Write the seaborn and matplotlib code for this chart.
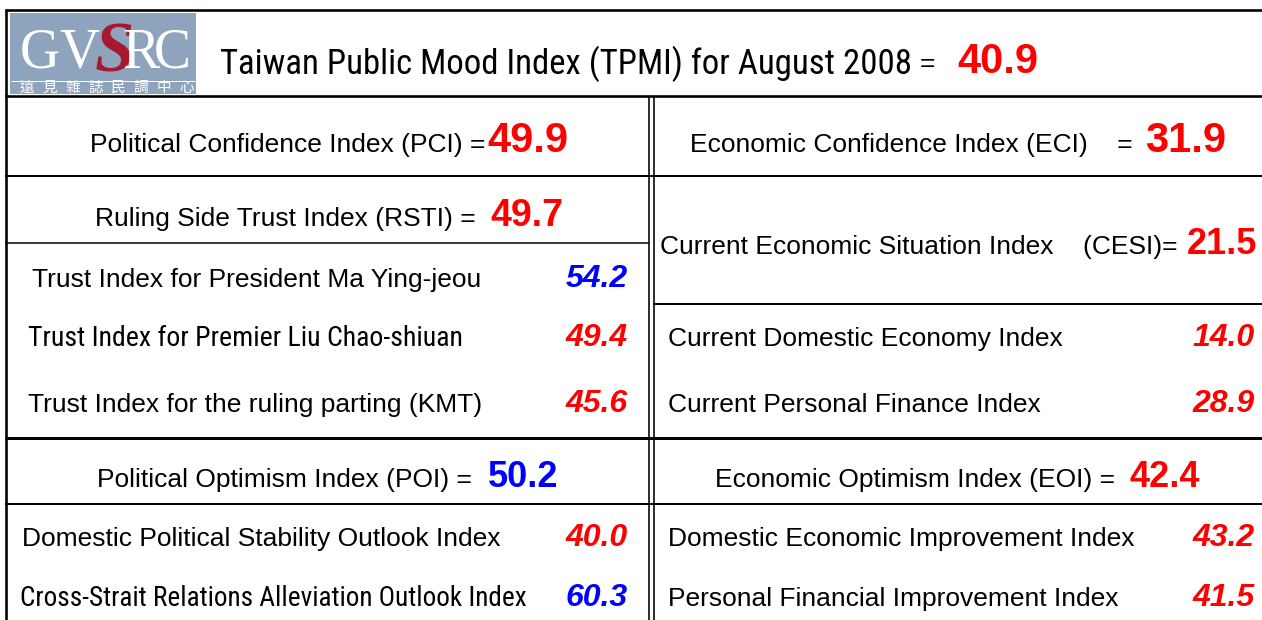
import matplotlib
matplotlib.use("Agg")
import matplotlib.pyplot as plt
import seaborn as sns
from matplotlib import font_manager
from matplotlib.patches import Rectangle

# headline
title_label = "Taiwan Public Mood Index (TPMI) for August 2008"
title_value = 40.9

# section headers (left = political, right = economic)
left_heads = ["Political Confidence Index (PCI) =",
              "Ruling Side Trust Index (RSTI) =",
              "Political Optimism Index (POI) ="]
left_head_values = [49.9, 49.7, 50.2]
right_heads = ["Economic Confidence Index (ECI)    =",
               "Current Economic Situation Index    (CESI)=",
               "Economic Optimism Index (EOI) ="]
right_head_values = [31.9, 21.5, 42.4]

# sub indices
left_items = ["Trust Index for President Ma Ying-jeou",
              "Trust Index for Premier Liu Chao-shiuan",
              "Trust Index for the ruling parting (KMT)",
              "Domestic Political Stability Outlook Index",
              "Cross-Strait Relations Alleviation Outlook Index"]
left_item_values = [54.2, 49.4, 45.6, 40.0, 60.3]
right_items = ["Current Domestic Economy Index",
               "Current Personal Finance Index",
               "Domestic Economic Improvement Index",
               "Personal Financial Improvement Index"]
right_item_values = [14.0, 28.9, 43.2, 41.5]

logo_letters = list("GVSRC")
logo_caption = "遠見雜誌民調中心"

RED = "#ff0000"
BLUE = "#0000ff"

sns.set_theme(style="white")
installed = {f.name for f in font_manager.fontManager.ttflist}
SANS = "Liberation Sans"
NARROW = next((n for n in ["Roboto Condensed", "PT Sans Narrow", "Archivo Narrow"] if n in installed), SANS)
plt.rcParams['font.family'] = [SANS, 'DejaVu Sans']

fig = plt.figure(figsize=(12.62, 6.2), dpi=100)
ax = fig.add_axes([0, 0, 1, 1])
ax.set_xlim(0, 1262)
ax.set_ylim(620, 0)
ax.set_axis_off()
renderer = fig.canvas.get_renderer()


def put(x, y, s, size, color="black", weight="normal", style="normal", ha="left", family=SANS):
    return ax.text(x, y, s, fontsize=size, color=color, fontweight=weight, fontstyle=style,
                   ha=ha, va="baseline", family=[family, "DejaVu Sans"])


def fit(t, width):
    # condensed labels: scale the size so the text spans the same width as in the reference
    w = t.get_window_extent(renderer).width
    t.set_fontsize(t.get_fontsize() * width / w)


def hline(y, x0, x1, px, color="black"):
    ax.plot([x0, x1], [y, y], color=color, lw=px * 0.72, solid_capstyle="butt")


def vline(x, y0, y1, px):
    ax.plot([x, x], [y0, y1], color="black", lw=px * 0.72, solid_capstyle="butt")


# grid lines
hline(10, 5, 1262, 2.6)
vline(6, 9, 620, 2.6)
hline(96, 5, 1262, 2.6)
hline(175.5, 5, 1262, 2.0)
hline(242.5, 5, 649, 1.5)
hline(303.5, 653, 1262, 2.0)
hline(437.5, 5, 1262, 3.0)
hline(504, 5, 1262, 2.0)
vline(649, 96, 620, 1.6)
vline(653.5, 96, 620, 1.6)

# logo
ax.add_patch(Rectangle((10, 13), 186, 81, facecolor="#8ea3bc", edgecolor="none"))
hline(81, 11, 195, 1.0, color="white")
for letter, cx in zip(logo_letters, [40, 79, 114, 141, 172]):
    if letter == "S":
        ax.text(cx, 71, letter, fontsize=51, color="#a6192e", ha="center", va="baseline",
                family=["Liberation Serif"], fontstyle="italic", fontweight="bold")
    else:
        ax.text(cx, 68, letter, fontsize=40, color="white", ha="center", va="baseline",
                family=["Liberation Serif"])
for i, ch in enumerate(logo_caption):
    ax.text(27 + i * 22.8, 88, ch, fontsize=10.5, color="white", ha="center", va="center",
            family=["Noto Sans CJK TC", "DejaVu Sans"])

# headline row
fit(put(220, 74, title_label, 27, family=NARROW), 690)
put(920, 71, "=", 19)
put(957, 73, f"{title_value:.1f}", 30, color=RED, weight="bold")

# section headers
head_pos = [(90, 152, 487, 30), (95, 226, 490, 27), (97, 487, 488, 26)]
for label, val, (x, y, vx, vs), col in zip(left_heads, left_head_values, head_pos, [RED, RED, BLUE]):
    put(x, y, label, 19)
    put(vx, y, f"{val:.1f}", vs, color=col, weight="bold")

head_pos = [(690, 152, 1145, 30), (660, 254, 1187, 26), (715, 487, 1130, 26)]
for label, val, (x, y, vx, vs) in zip(right_heads, right_head_values, head_pos):
    put(x, y, label, 19)
    put(vx, y, f"{val:.1f}", vs, color=RED, weight="bold")

# sub index rows
left_pos = [(32, 287, None), (28, 346, 435), (28, 412, None), (22, 546, None), (20, 606, 508)]
left_cols = [BLUE, RED, RED, RED, BLUE]
for label, val, (x, y, narrow_w), col in zip(left_items, left_item_values, left_pos, left_cols):
    if narrow_w:
        fit(put(x, y, label, 21, family=NARROW), narrow_w)
    else:
        put(x, y, label, 19)
    put(628, y, f"{val:.1f}", 23, color=col, weight="bold", style="italic", ha="right")

for label, val, y in zip(right_items, right_item_values, [346, 412, 546, 606]):
    put(668, y, label, 19)
    put(1255, y, f"{val:.1f}", 23, color=RED, weight="bold", style="italic", ha="right")

fig.savefig("out.png", dpi=100)
